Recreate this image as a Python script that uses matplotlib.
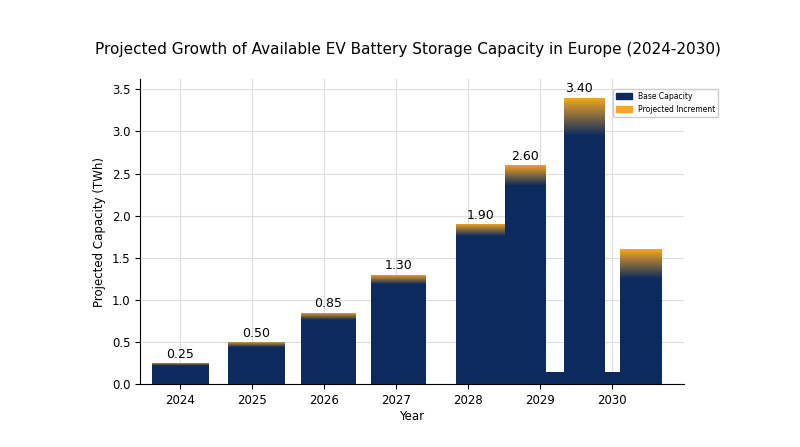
import matplotlib
matplotlib.use("Agg")
import matplotlib.pyplot as plt
import numpy as np
from matplotlib.colors import LinearSegmentedColormap
from matplotlib.patches import Patch

years = [2024, 2025, 2026, 2027, 2028, 2029, 2030]
totals = [0.25, 0.50, 0.85, 1.30, 1.90, 2.60, 1.60]
labels = ["0.25", "0.50", "0.85", "1.30", "1.90", "2.60", ""]
extra_total = 3.40
extra_label = "3.40"
fades = [0.04, 0.07, 0.09, 0.12, 0.15, 0.25, 0.35]
extra_fade = 0.45
base_floor = 0.15

navy = "#0d2a5e"
orange = "#f5a623"
cmap = LinearSegmentedColormap.from_list("g", [navy, orange])

fig = plt.figure(figsize=(8, 4.47), dpi=100)
ax = fig.add_axes([0.175, 0.14, 0.68, 0.683])

def grad_bar(x, w, h, fade):
    bar = ax.bar(x, h, width=w, color="none", zorder=3)[0]
    n = 200
    ys = np.linspace(0, h, n)
    vals = np.clip((ys - (h - fade)) / fade, 0, 1)[:, None]
    im = ax.imshow(vals, cmap=cmap, vmin=0, vmax=1, aspect="auto",
                   extent=[x - w / 2, x + w / 2, 0, h], origin="lower", zorder=3)
    im.set_clip_path(bar)

offsets = [0, 0.06, 0.06, 0.04, 0.18, -0.2, 0.4]
widths = [0.78, 0.78, 0.76, 0.76, 0.7, 0.56, 0.58]
for i, y in enumerate(years):
    x = y + offsets[i]
    grad_bar(x, widths[i], totals[i], fades[i])
    if labels[i]:
        ax.text(x, totals[i] + 0.03, labels[i], ha="center", va="bottom", fontsize=9, zorder=4)
xe = 2029.62
grad_bar(xe, 0.56, extra_total, extra_fade)
ax.text(xe - 0.08, extra_total + 0.03, extra_label, ha="center", va="bottom", fontsize=9, zorder=4)
for c in [2028.26, 2029.04, 2030.1]:
    ax.bar(c, base_floor, width=0.76, color=navy, zorder=3)

ax.set_xlim(2023.45, 2031.0)
ax.set_ylim(0, 3.62)
ax.set_xticks(years)
ax.set_xticklabels([str(y) for y in years], fontsize=8.5)
ax.set_yticks(np.arange(0, 3.6, 0.5))
ax.set_yticklabels([f"{v:.1f}" for v in np.arange(0, 3.6, 0.5)], fontsize=8.5)
ax.grid(True, color="#dddddd", linewidth=0.8, zorder=0)
ax.set_axisbelow(True)
for s in ["top", "right"]:
    ax.spines[s].set_visible(False)
ax.set_xlabel("Year", fontsize=8.5, labelpad=2)
ax.set_ylabel("Projected Capacity (TWh)", fontsize=8.5)
fig.text(0.51, 0.89, "Projected Growth of Available EV Battery Storage Capacity in Europe (2024-2030)",
         fontsize=11, ha="center", va="center")
ax.legend(handles=[Patch(color=navy, label="Base Capacity"),
                   Patch(color=orange, label="Projected Increment")],
          loc="upper left", fontsize=5.5, bbox_to_anchor=(0.762, 0.81),
          bbox_transform=fig.transFigure, framealpha=1)
fig.savefig("out.png", dpi=100)
